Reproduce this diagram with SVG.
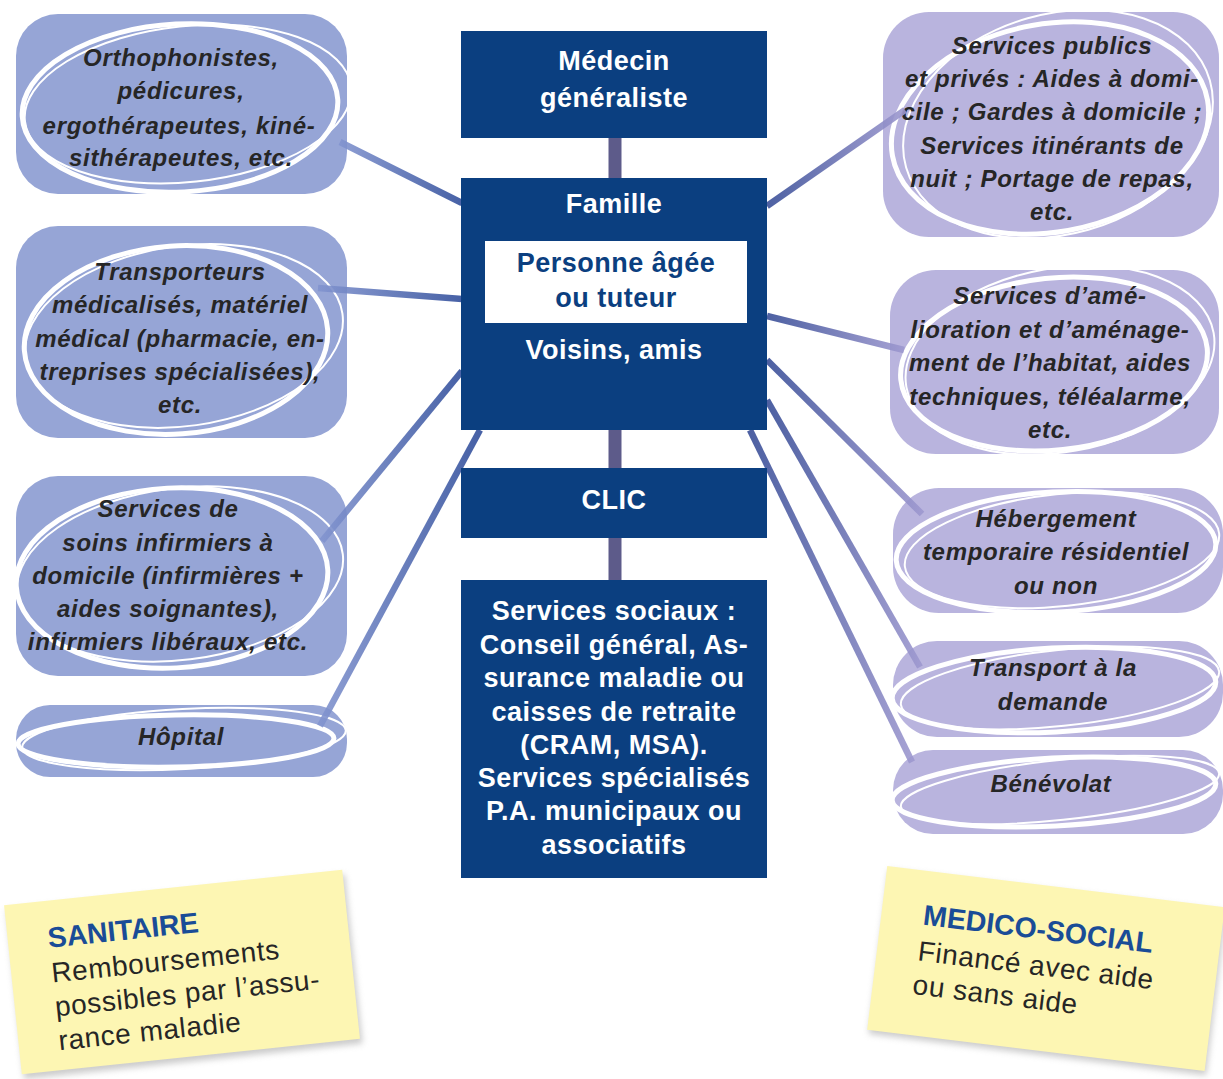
<svg xmlns="http://www.w3.org/2000/svg" width="1223" height="1079" viewBox="0 0 1223 1079">
<defs>
<linearGradient id="gl" x1="0" y1="0" x2="1" y2="0"><stop offset="0" stop-color="#8294cf"/><stop offset="1" stop-color="#33509c"/></linearGradient>
<linearGradient id="gr" x1="0" y1="0" x2="1" y2="0"><stop offset="0" stop-color="#3a4f98"/><stop offset="1" stop-color="#9d98cf"/></linearGradient>
<filter id="sh" x="-10%" y="-10%" width="120%" height="130%"><feGaussianBlur stdDeviation="3"/></filter>
</defs>
<style>
.bg{fill:#fff}
.nl{fill:#96a5d6}
.nr{fill:#b9b4de}
.ring{fill:none;stroke:#fff;stroke-width:5}
.ring2{fill:none;stroke:#fff;stroke-width:2}
.nt{font-family:"Liberation Sans",Arial,sans-serif;font-weight:bold;font-style:italic;font-size:24px;letter-spacing:0.7px;fill:#262626;text-anchor:middle}
.box{fill:#0b3f80}
.bt{font-family:"Liberation Sans",Arial,sans-serif;font-weight:bold;font-size:27px;letter-spacing:0.5px;fill:#fff;text-anchor:middle}
.bt2{fill:#0b3f80}
.vc{stroke:#5d5b8a;stroke-width:13}
.cl{stroke:url(#gl);stroke-width:6.5;fill:none;opacity:0.9}
.cr{stroke:url(#gr);stroke-width:6.5;fill:none;opacity:0.9}
.note{fill:#fdf6b3}
.nsh{fill:#999;opacity:0.5}
.h{font-family:"Liberation Sans",Arial,sans-serif;font-weight:bold;font-size:28.5px;fill:#1a4c97}
.p{font-family:"Liberation Sans",Arial,sans-serif;font-size:28px;letter-spacing:0.6px;fill:#262626}
</style>
<rect class="bg" x="0" y="0" width="1223" height="1079"/>

<g id="node-orthophonistes">
<rect class="nl" x="16" y="14" width="331" height="180" rx="42"/>
<ellipse class="ring" cx="180" cy="108" rx="158" ry="84" transform="rotate(-3 180 108)"/>
<ellipse class="ring2" cx="188" cy="104" rx="164" ry="78" transform="rotate(-6 188 104)"/>
<text class="nt" x="181" y="66">Orthophonistes,</text>
<text class="nt" x="181" y="99">pédicures,</text>
<text class="nt" x="179" y="134">ergothérapeutes, kiné-</text>
<text class="nt" x="181" y="166">sithérapeutes, etc.</text>
</g>

<g id="node-transporteurs">
<rect class="nl" x="16" y="226" width="331" height="212" rx="42"/>
<ellipse class="ring" cx="176" cy="340" rx="152" ry="94" transform="rotate(-4 176 340)"/>
<ellipse class="ring2" cx="184" cy="336" rx="160" ry="90" transform="rotate(-8 184 336)"/>
<text class="nt" x="180" y="280">Transporteurs</text>
<text class="nt" x="180" y="313">médicalisés, matériel</text>
<text class="nt" x="180" y="347">médical (pharmacie, en-</text>
<text class="nt" x="180" y="380">treprises spécialisées),</text>
<text class="nt" x="180" y="413">etc.</text>
</g>

<g id="node-soins">
<rect class="nl" x="16" y="476" width="331" height="200" rx="42"/>
<ellipse class="ring" cx="172" cy="578" rx="156" ry="90" transform="rotate(-3 172 578)"/>
<ellipse class="ring2" cx="180" cy="574" rx="164" ry="86" transform="rotate(-7 180 574)"/>
<text class="nt" x="168" y="517">Services de</text>
<text class="nt" x="168" y="551">soins infirmiers à</text>
<text class="nt" x="168" y="584">domicile (infirmières +</text>
<text class="nt" x="168" y="617">aides soignantes),</text>
<text class="nt" x="168" y="650">infirmiers libéraux, etc.</text>
</g>

<g id="node-hopital">
<rect class="nl" x="16" y="705" width="331" height="72" rx="34"/>
<ellipse class="ring" cx="176" cy="741" rx="158" ry="26" transform="rotate(-1 176 741)"/>
<ellipse class="ring2" cx="184" cy="739" rx="162" ry="30" transform="rotate(-3 184 739)"/>
<text class="nt" x="181" y="745">Hôpital</text>
</g>

<g id="node-services-publics">
<rect class="nr" x="883" y="12" width="336" height="225" rx="46"/>
<ellipse class="ring" cx="1050" cy="128" rx="160" ry="104" transform="rotate(-10 1050 128)"/>
<ellipse class="ring2" cx="1058" cy="124" rx="158" ry="110" transform="rotate(-16 1058 124)"/>
<text class="nt" x="1052" y="54">Services publics</text>
<text class="nt" x="1052" y="87">et privés : Aides à domi-</text>
<text class="nt" x="1052" y="120">cile ; Gardes à domicile ;</text>
<text class="nt" x="1052" y="154">Services itinérants de</text>
<text class="nt" x="1052" y="187">nuit ; Portage de repas,</text>
<text class="nt" x="1052" y="220">etc.</text>
</g>

<g id="node-habitat">
<rect class="nr" x="890" y="270" width="329" height="184" rx="46"/>
<ellipse class="ring" cx="1054" cy="364" rx="154" ry="86" transform="rotate(-6 1054 364)"/>
<ellipse class="ring2" cx="1060" cy="360" rx="156" ry="92" transform="rotate(-10 1060 360)"/>
<text class="nt" x="1050" y="304">Services d’amé-</text>
<text class="nt" x="1050" y="338">lioration et d’aménage-</text>
<text class="nt" x="1050" y="371">ment de l’habitat, aides</text>
<text class="nt" x="1050" y="405">techniques, téléalarme,</text>
<text class="nt" x="1050" y="438">etc.</text>
</g>

<g id="node-hebergement">
<rect class="nr" x="893" y="488" width="330" height="125" rx="46"/>
<ellipse class="ring" cx="1056" cy="552" rx="160" ry="60" transform="rotate(-3 1056 552)"/>
<ellipse class="ring2" cx="1062" cy="550" rx="158" ry="56" transform="rotate(-6 1062 550)"/>
<text class="nt" x="1056" y="527">Hébergement</text>
<text class="nt" x="1056" y="560">temporaire résidentiel</text>
<text class="nt" x="1056" y="594">ou non</text>
</g>

<g id="node-transport">
<rect class="nr" x="893" y="641" width="330" height="96" rx="44"/>
<ellipse class="ring" cx="1054" cy="690" rx="162" ry="42" transform="rotate(-3 1054 690)"/>
<ellipse class="ring2" cx="1060" cy="688" rx="160" ry="38" transform="rotate(-6 1060 688)"/>
<text class="nt" x="1053" y="676">Transport à la</text>
<text class="nt" x="1053" y="710">demande</text>
</g>

<g id="node-benevolat">
<rect class="nr" x="893" y="750" width="330" height="84" rx="40"/>
<ellipse class="ring" cx="1054" cy="792" rx="162" ry="34" transform="rotate(-3 1054 792)"/>
<ellipse class="ring2" cx="1060" cy="790" rx="160" ry="30" transform="rotate(-6 1060 790)"/>
<text class="nt" x="1051" y="792">Bénévolat</text>
</g>

<g id="connectors">
<line class="vc" x1="615" y1="138" x2="615" y2="178"/>
<line class="vc" x1="615" y1="430" x2="615" y2="468"/>
<line class="vc" x1="615" y1="538" x2="615" y2="580"/>
<line class="cl" x1="340" y1="142" x2="462" y2="203"/>
<line class="cl" x1="318" y1="288" x2="462" y2="299"/>
<line class="cl" x1="322" y1="541" x2="462" y2="371"/>
<line class="cl" x1="320" y1="726" x2="480" y2="430"/>
<line class="cr" x1="767" y1="206" x2="905" y2="110"/>
<line class="cr" x1="767" y1="316" x2="904" y2="350"/>
<line class="cr" x1="767" y1="360" x2="922" y2="514"/>
<line class="cr" x1="767" y1="400" x2="920" y2="667"/>
<line class="cr" x1="750" y1="430" x2="912" y2="762"/>
</g>

<g id="node-medecin">
<rect class="box" x="461" y="31" width="306" height="107"/>
<text class="bt" x="614" y="70">Médecin</text>
<text class="bt" x="614" y="107">généraliste</text>
</g>

<g id="node-famille">
<rect class="box" x="461" y="178" width="306" height="252"/>
<text class="bt" x="614" y="213">Famille</text>
<rect fill="#fff" x="485" y="241" width="262" height="82"/>
<text class="bt bt2" x="616" y="272">Personne âgée</text>
<text class="bt bt2" x="616" y="307">ou tuteur</text>
<text class="bt" x="614" y="359">Voisins, amis</text>
</g>

<g id="node-clic">
<rect class="box" x="461" y="468" width="306" height="70"/>
<text class="bt" x="614" y="509">CLIC</text>
</g>

<g id="node-services-sociaux">
<rect class="box" x="461" y="580" width="306" height="298"/>
<text class="bt" x="614" y="620">Services sociaux :</text>
<text class="bt" x="614" y="654">Conseil général, As-</text>
<text class="bt" x="614" y="687">surance maladie ou</text>
<text class="bt" x="614" y="721">caisses de retraite</text>
<text class="bt" x="614" y="754">(CRAM, MSA).</text>
<text class="bt" x="614" y="787">Services spécialisés</text>
<text class="bt" x="614" y="820">P.A. municipaux ou</text>
<text class="bt" x="614" y="854">associatifs</text>
</g>

<g id="note-sanitaire" transform="translate(182 972) rotate(-6)">
<rect class="nsh" x="-168" y="-80" width="340" height="170" filter="url(#sh)"/>
<rect class="note" x="-170" y="-85" width="340" height="170"/>
<text class="h" x="-130" y="-38">SANITAIRE</text>
<text class="p" x="-130" y="-3">Remboursements</text>
<text class="p" x="-130" y="31">possibles par l’assu-</text>
<text class="p" x="-130" y="65">rance maladie</text>
</g>

<g id="note-medico-social" transform="translate(1046 968) rotate(7)">
<rect class="nsh" x="-168" y="-78" width="340" height="165" filter="url(#sh)"/>
<rect class="note" x="-170" y="-82" width="340" height="165"/>
<text class="h" x="-128" y="-28">MEDICO-SOCIAL</text>
<text class="p" x="-129" y="8">Financé avec aide</text>
<text class="p" x="-130" y="42">ou sans aide</text>
</g>
</svg>
